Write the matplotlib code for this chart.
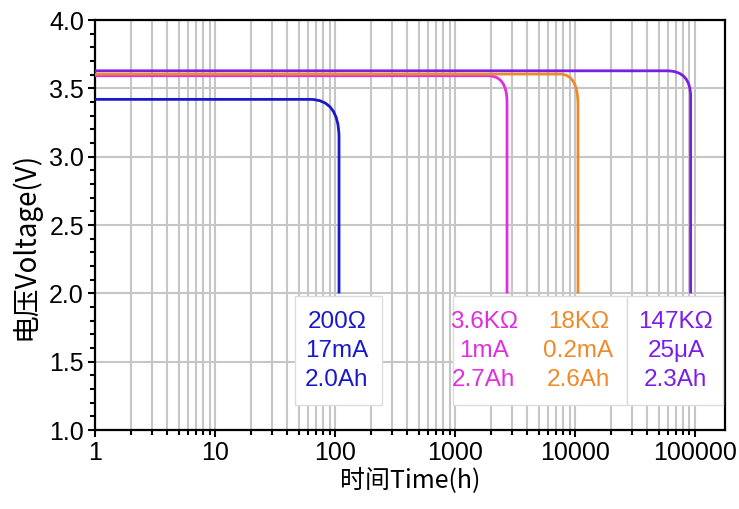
import matplotlib.pyplot as plt
from matplotlib.ticker import LogLocator, MultipleLocator, FixedLocator, NullFormatter
from matplotlib.patches import Rectangle, PathPatch
from matplotlib.path import Path

plt.rcParams['font.family'] = ['Liberation Sans', 'DejaVu Sans']

# discharge curves: flat voltage (V), end of flat part (h),
# cut-off time (h), voltage where the drop goes vertical (V), end voltage (V)
v_flat = [3.42, 3.593, 3.605, 3.629]
t_knee = [62, 1884, 7499, 58480]
t_cut = [108, 2713, 10593, 92000]
v_knee = [3.14, 3.40, 3.38, 3.44]
v_end = [2.0, 2.0, 2.0, 2.0]

colors = ['#1818cc', '#e02ee0', '#f08a28', '#7a1ee6']

lbl_200 = ['200Ω', '17mA', '2.0Ah']
lbl_3k6 = ['3.6KΩ', '1mA', '2.7Ah']
lbl_18k = ['18KΩ', '0.2mA', '2.6Ah']
lbl_147k = ['147KΩ', '25μA', '2.3Ah']

fig = plt.figure(figsize=(7.39, 5.09), dpi=100)
ax = fig.add_axes([0.1286, 0.155, 0.8525, 0.8055])

ax.set_xscale('log')
ax.set_xlim(1, 1.78e5)
ax.set_ylim(1.0, 4.0)

# flat line, rounded knee (quadratic bezier), vertical drop
for vf, tk, tc, vk, ve, col in zip(v_flat, t_knee, t_cut, v_knee, v_end, colors):
    verts = [(1, vf), (tk, vf), (tc, vf), (tc, vk), (tc, ve)]
    codes = [Path.MOVETO, Path.LINETO, Path.CURVE3, Path.CURVE3, Path.LINETO]
    ax.add_patch(PathPatch(Path(verts, codes), fill=False, edgecolor=col,
                           lw=2.0, zorder=3, transform=ax.transData))

ax.xaxis.set_major_locator(FixedLocator([1, 10, 100, 1000, 10000, 100000]))
ax.set_xticklabels(['1', '10', '100', '1000', '10000', '100000'])
ax.xaxis.set_minor_locator(LogLocator(base=10, subs=range(2, 10), numticks=20))
ax.xaxis.set_minor_formatter(NullFormatter())
ax.yaxis.set_major_locator(MultipleLocator(0.5))
ax.yaxis.set_minor_locator(MultipleLocator(0.1))
ax.yaxis.set_major_formatter(plt.FormatStrFormatter('%.1f'))

ax.grid(which='major', color='#c6c6c6', lw=1.5, zorder=0)
ax.grid(which='minor', axis='x', color='#c6c6c6', lw=1.5, zorder=0)
ax.set_axisbelow(True)

ax.tick_params(which='major', direction='out', length=5, width=1.5, labelsize=18, pad=3)
ax.tick_params(which='minor', direction='out', length=3.5, width=1.5)
for s in ax.spines.values():
    s.set_linewidth(1.6)

ax.set_xlabel('时间Time(h)', fontsize=18, family=['Noto Sans CJK SC', 'DejaVu Sans'], labelpad=2)
ax.set_ylabel('电压Voltage(V)', fontsize=20, family=['Noto Sans CJK SC', 'DejaVu Sans'])
ax.yaxis.set_label_coords(-0.087, 0.45)

# label boxes
for x0, x1 in [(0.317, 0.456), (0.568, 0.844), (0.844, 0.997)]:
    ax.add_patch(Rectangle((x0, 0.062), x1 - x0, 0.266, transform=ax.transAxes,
                           facecolor='white', edgecolor='#dcdcdc', lw=1, zorder=4))

rows = [0.263, 0.193, 0.122]
for xc, labels, col in [(0.384, lbl_200, colors[0]), (0.617, lbl_3k6, colors[1]),
                        (0.767, lbl_18k, colors[2]), (0.922, lbl_147k, colors[3])]:
    for y, s in zip(rows, labels):
        ax.text(xc, y, s, transform=ax.transAxes, ha='center', va='center',
                fontsize=17.5, color=col, zorder=5)

fig.savefig('out.png', dpi=100)
